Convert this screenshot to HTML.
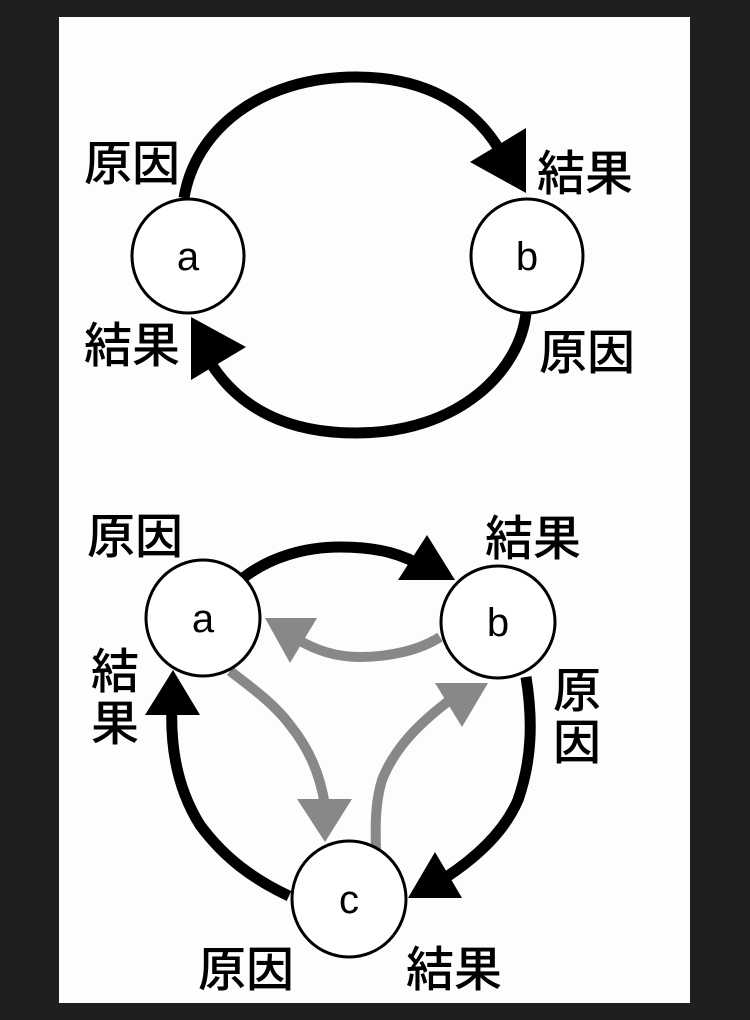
<!DOCTYPE html>
<html><head><meta charset="utf-8"><style>
html,body{margin:0;padding:0;background:#1f1f1f;}
svg{display:block;}
text{font-family:"Liberation Sans","Noto Sans CJK JP",sans-serif;}
.k{font-size:48px;font-weight:500;fill:#000;}
.l{font-size:40px;fill:#000;}
</style></head><body>
<svg width="750" height="1020" viewBox="0 0 750 1020" xmlns="http://www.w3.org/2000/svg">
<rect x="0" y="0" width="750" height="1020" fill="#1f1f1f"/>
<rect x="59" y="17" width="631" height="986" fill="#fdfdfd"/>

<!-- Top diagram -->
<path d="M184 198 C195 130 260 77 356 77 C430 77 480 110 505 160" fill="none" stroke="#000" stroke-width="11"/>
<polygon points="526,128 470,162 526,193" fill="#000"/>
<path d="M526 313 C520 370 460 433 356 433 C290 433 240 410 210 362" fill="none" stroke="#000" stroke-width="11"/>
<polygon points="191,317 246,347 191,380" fill="#000"/>
<ellipse cx="188" cy="256" rx="56" ry="57" fill="#fff" stroke="#000" stroke-width="3"/>
<ellipse cx="527" cy="256" rx="56" ry="57" fill="#fff" stroke="#000" stroke-width="3"/>
<text class="l" x="188" y="270" text-anchor="middle">a</text>
<text class="l" x="527" y="270" text-anchor="middle">b</text>
<text class="k" x="84" y="180">原因</text>
<text class="k" x="537" y="190">結果</text>
<text class="k" x="84" y="362">結果</text>
<text class="k" x="539" y="369">原因</text>

<!-- Bottom diagram: black -->
<path d="M243 578 C270 557 305 547 340 547 C380 547 405 555 425 568" fill="none" stroke="#000" stroke-width="11"/>
<polygon points="427,535 398,580 455,580" fill="#000"/>
<path d="M526 677 C533 720 532 760 518 800 C505 830 480 855 445 878" fill="none" stroke="#000" stroke-width="11"/>
<polygon points="435,852 408,898 462,898" fill="#000"/>
<path d="M289 896 C255 880 225 859 200 825 C178 790 170 750 172 705" fill="none" stroke="#000" stroke-width="11"/>
<polygon points="173,670 145,715 200,715" fill="#000"/>

<!-- gray -->
<path d="M440 637 C420 650 390 657 360 657 C335 657 315 650 295 638" fill="none" stroke="#888" stroke-width="10"/>
<polygon points="265,618 317,618 290,663" fill="#888"/>
<path d="M230 671 C255 690 275 705 290 725 C310 750 320 775 325 805" fill="none" stroke="#888" stroke-width="10"/>
<polygon points="297,799 352,799 325,842" fill="#888"/>
<path d="M376 849 C375 820 376 800 382 780 C392 755 410 730 450 700" fill="none" stroke="#888" stroke-width="10"/>
<polygon points="435,683 488,683 462,727" fill="#888"/>

<ellipse cx="203" cy="618" rx="57" ry="58" fill="#fff" stroke="#000" stroke-width="3"/>
<ellipse cx="498" cy="622" rx="57" ry="56" fill="#fff" stroke="#000" stroke-width="3"/>
<ellipse cx="349" cy="899" rx="57" ry="58" fill="#fff" stroke="#000" stroke-width="3"/>
<text class="l" x="203" y="632" text-anchor="middle">a</text>
<text class="l" x="498" y="636" text-anchor="middle">b</text>
<text class="l" x="349" y="913" text-anchor="middle">c</text>

<text class="k" x="87" y="553">原因</text>
<text class="k" x="485" y="555">結果</text>
<text class="k" x="91" y="688">結</text>
<text class="k" x="91" y="740">果</text>
<text class="k" x="553" y="707">原</text>
<text class="k" x="553" y="759">因</text>
<text class="k" x="198" y="986">原因</text>
<text class="k" x="406" y="986">結果</text>
</svg>
</body></html>
